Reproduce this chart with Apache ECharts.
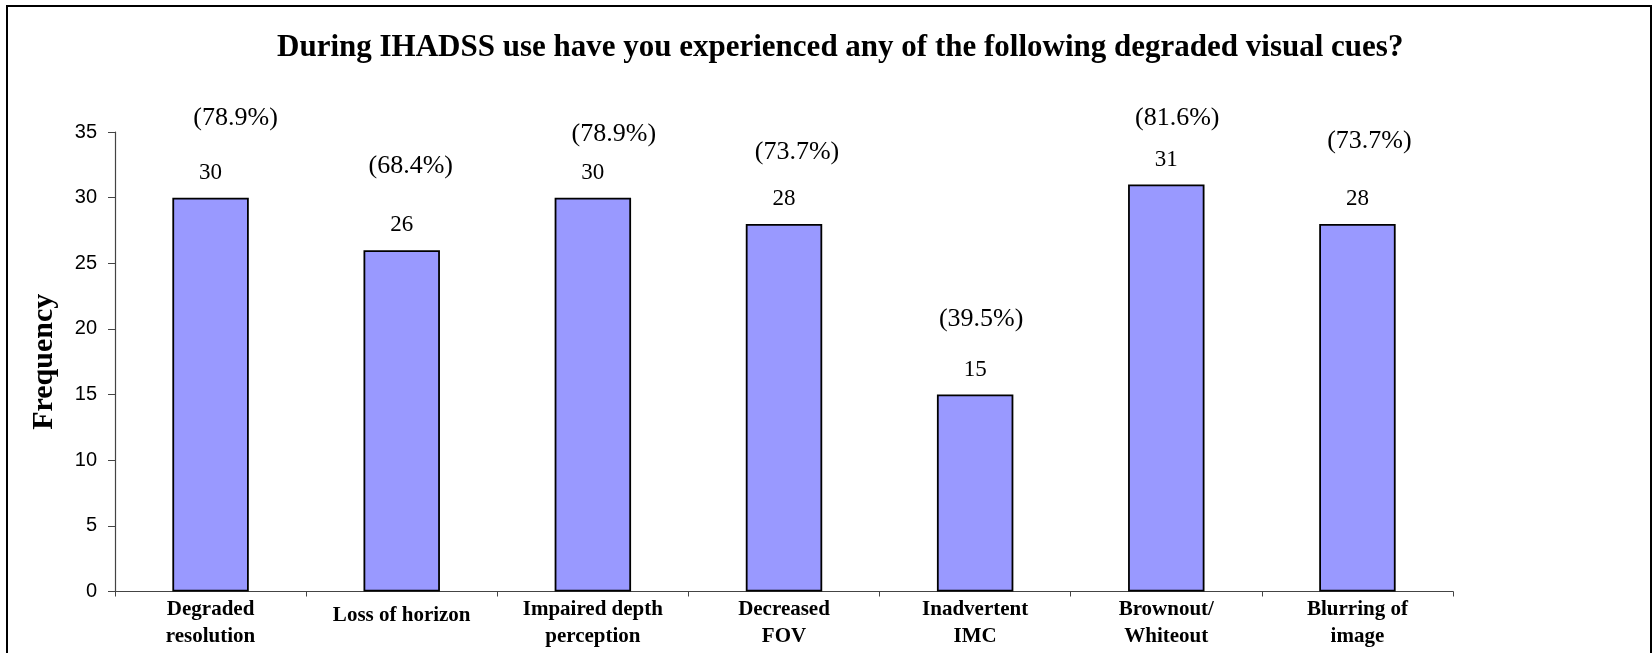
<!DOCTYPE html>
<html>
<head>
<meta charset="utf-8">
<script src="https://cdn.jsdelivr.net/npm/echarts@6/dist/echarts.min.js"></script>
<style>
html,body{margin:0;padding:0;background:#fff;}
#chart{width:1652px;height:653px;}
</style>
</head>
<body>
<div id="chart"></div>
<script>
// ---- data ----
const categories = ['Degraded\nresolution', 'Loss of horizon', 'Impaired depth\nperception', 'Decreased\nFOV', 'Inadvertent\nIMC', 'Brownout/\nWhiteout', 'Blurring of\nimage'];
const frequencies = [30, 26, 30, 28, 15, 31, 28];
const percentLabels = ['(78.9%)', '(68.4%)', '(78.9%)', '(73.7%)', '(39.5%)', '(81.6%)', '(73.7%)'];
const yMin = 0, yMax = 35, yStep = 5;
const titleText = 'During IHADSS use have you experienced any of the following degraded visual cues?';
const yAxisTitle = 'Frequency';

// ---- layout of hand-placed percentage annotations (px: right shift, lift above bar top) ----
const pctShift = [25, 9, 21, 13, 6, 11, 12];
const pctLift = [79, 84, 63, 72, 75, 66, 83];

const serif = '"Liberation Serif", "Times New Roman", Times, serif';
const sans = '"Liberation Sans", Arial, sans-serif';

// single-line category labels sit a little lower than the first line of two-line labels
const categoryData = categories.map(c => c.indexOf('\n') >= 0 ? c : {value: c, textStyle: {padding: [6, 0, 0, 0]}});

const chart = echarts.init(document.getElementById('chart'), null, {renderer: 'canvas'});
chart.setOption({
  animation: false,
  backgroundColor: '#fff',
  title: {
    text: titleText,
    left: 272,
    top: 27,
    textStyle: {fontFamily: serif, fontWeight: 'bold', fontSize: 31, color: '#000'}
  },
  grid: {left: 115, right: 199, top: 132, bottom: 61.5, containLabel: false},
  xAxis: {
    type: 'category',
    data: categoryData,
    boundaryGap: true,
    axisLine: {lineStyle: {color: '#444', width: 1.2}},
    axisTick: {show: true, length: 5, inside: false, lineStyle: {color: '#444'}},
    axisLabel: {
      interval: 0,
      margin: 5,
      fontFamily: serif, fontWeight: 'bold', fontSize: 21, lineHeight: 27, color: '#000'
    }
  },
  yAxis: {
    type: 'value',
    min: yMin, max: yMax, interval: yStep,
    name: yAxisTitle,
    nameLocation: 'middle',
    nameGap: 56,
    nameRotate: 90,
    nameTextStyle: {fontFamily: serif, fontWeight: 'bold', fontSize: 30, color: '#000'},
    axisLine: {show: true, lineStyle: {color: '#444', width: 1.2}},
    axisTick: {show: true, length: 7, lineStyle: {color: '#444'}},
    splitLine: {show: false},
    axisLabel: {fontFamily: sans, fontSize: 20, color: '#000', margin: 18}
  },
  series: [
    {
      type: 'bar',
      data: frequencies,
      barWidth: '40%',
      itemStyle: {color: '#9999FF', borderColor: '#000', borderWidth: 1.8},
      label: {
        show: true, position: 'top', distance: 0, verticalAlign: 'middle',
        offset: [0, -25],
        fontFamily: serif, fontSize: 23, color: '#000'
      }
    },
    {
      type: 'bar',
      barGap: '-100%',
      barWidth: '40%',
      silent: true,
      z: 3,
      itemStyle: {color: 'rgba(0,0,0,0)', borderWidth: 0},
      data: frequencies.map((v, i) => ({
        value: v,
        label: {
          show: true, position: 'top', distance: 0, verticalAlign: 'middle',
          offset: [pctShift[i], -pctLift[i]],
          formatter: percentLabels[i],
          fontFamily: serif, fontSize: 26, color: '#000'
        }
      }))
    }
  ],
  graphic: [
    {
      type: 'rect',
      shape: {x: 7, y: 6, width: 1644, height: 720},
      style: {fill: 'none', stroke: '#000', lineWidth: 2},
      silent: true
    }
  ]
});
</script>
</body>
</html>
